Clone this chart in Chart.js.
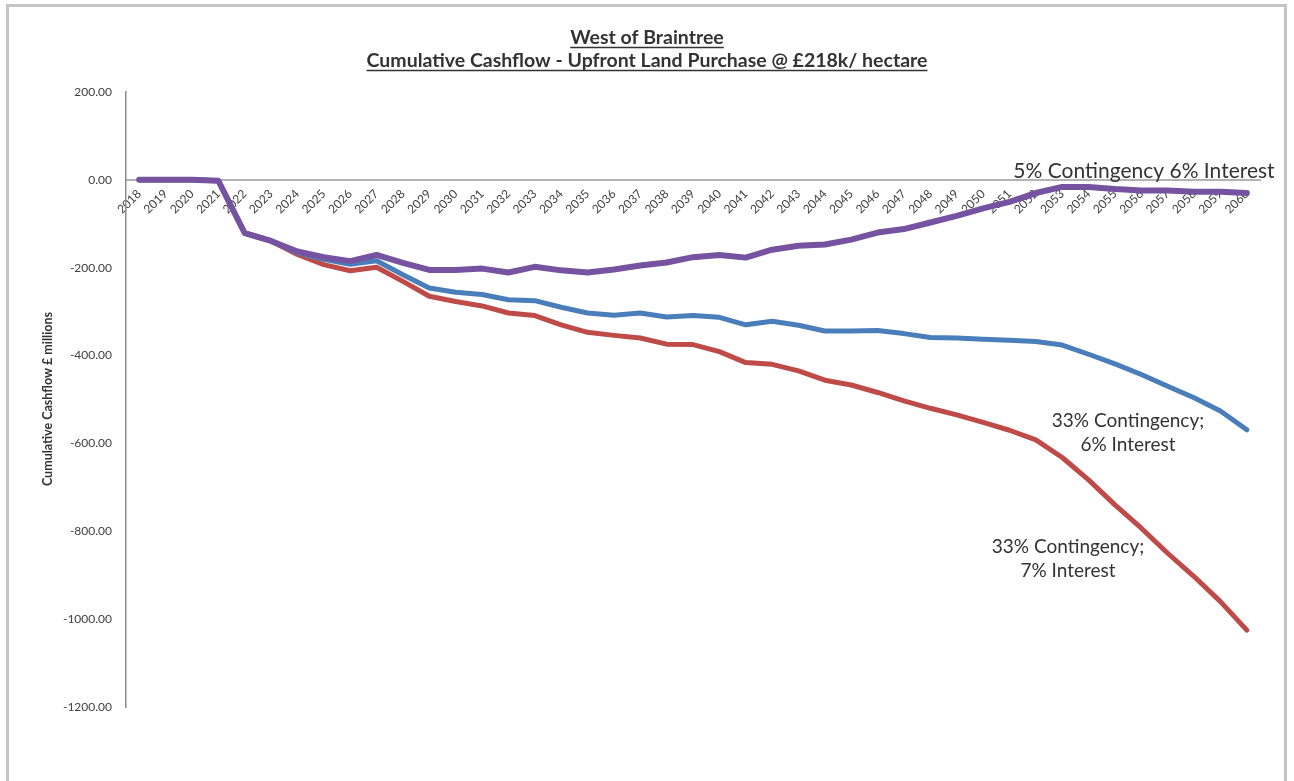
<!DOCTYPE html>
<html>
<head>
<meta charset="utf-8">
<title>West of Braintree - Cumulative Cashflow</title>
<script src="https://cdn.jsdelivr.net/npm/chart.js@4.4.0/dist/chart.umd.min.js"></script>
<style>
  html, body { margin: 0; padding: 0; background: #fff; }
  body { width: 1294px; height: 781px; overflow: hidden; position: relative; }
  .frame {
    position: absolute; left: 6px; top: 4px; width: 1281px; height: 820px;
    border: 3px solid #c4c4c4; box-sizing: border-box;
  }
  #wrap { position: absolute; left: 0; top: 0; width: 1294px; height: 781px; }
</style>
</head>
<body>
<div class="frame"></div>
<div id="wrap"><canvas id="cashflowChart"></canvas></div>
<script>
// years on the category axis
const years = [
  "2018", "2019", "2020", "2021", "2022", "2023", "2024", "2025", "2026", "2027",
  "2028", "2029", "2030", "2031", "2032", "2033", "2034", "2035", "2036", "2037",
  "2038", "2039", "2040", "2041", "2042", "2043", "2044", "2045", "2046", "2047",
  "2048", "2049", "2050", "2051", "2052", "2053", "2054", "2055", "2056", "2057",
  "2058", "2059", "2060"
];

// cumulative cashflow, £ millions
const cont5int6 = [
  0, 0, 0, -2, -121, -139, -163, -176, -185, -171,
  -189, -205, -205, -202, -211, -198, -206, -211, -204, -195,
  -188, -176, -171, -177, -159, -150, -147, -136, -120, -112,
  -97, -82, -65, -50, -30, -16, -16, -21, -24, -24,
  -27, -27, -30
];
const cont33int6 = [
  0, 0, 0, -2, -121, -139, -166, -181, -192, -184,
  -216, -246, -256, -261, -273, -275, -290, -303, -308, -303,
  -312, -309, -313, -330, -322, -331, -344, -344, -343, -350,
  -359, -360, -363, -365, -368, -376, -397, -419, -443, -470,
  -496, -526, -569
];
const cont33int7 = [
  0, 0, 0, -2, -121, -139, -170, -193, -207, -199,
  -231, -265, -277, -287, -303, -309, -330, -347, -354, -360,
  -374, -375, -391, -416, -420, -435, -456, -467, -484, -503,
  -520, -535, -552, -570, -592, -632, -683, -740, -793, -850,
  -903, -960, -1025
];

const titleLines = [
  "West of Braintree",
  "Cumulative Cashflow - Upfront Land Purchase @ £218k/ hectare"
];
const yAxisTitle = "Cumulative Cashflow £ millions";

// series captions placed beside the lines
const captions = [
  { lines: ["5% Contingency 6% Interest"], x: 1144, y: 178, size: 21 },
  { lines: ["33% Contingency;", "6% Interest"], x: 1128, y: 427, size: 19 },
  { lines: ["33% Contingency;", "7% Interest"], x: 1068, y: 553, size: 19 }
];

const textColor = "#333333";

// chart title (underlined), axis title and line captions
const textPlugin = {
  id: "chartText",
  afterDraw(chart) {
    const ctx = chart.ctx;
    ctx.save();
    ctx.fillStyle = textColor;
    ctx.strokeStyle = textColor;
    ctx.textBaseline = "alphabetic";
    ctx.textAlign = "center";

    ctx.font = "bold 19.5px Lato";
    const titleY = [44, 67];
    titleLines.forEach((line, i) => {
      const w = ctx.measureText(line).width;
      ctx.fillText(line, 647, titleY[i]);
      ctx.lineWidth = 1.4;
      ctx.beginPath();
      ctx.moveTo(647 - w / 2, titleY[i] + 3.5);
      ctx.lineTo(647 + w / 2, titleY[i] + 3.5);
      ctx.stroke();
    });

    ctx.font = "bold 12.5px Lato";
    ctx.translate(52, 399);
    ctx.rotate(-Math.PI / 2);
    ctx.fillText(yAxisTitle, 0, 0);
    ctx.setTransform(1, 0, 0, 1, 0, 0);

    captions.forEach((c) => {
      ctx.font = c.size + "px Lato";
      c.lines.forEach((line, i) => {
        ctx.fillText(line, c.x, c.y + i * 24);
      });
    });
    ctx.restore();
  }
};

const lineStyle = {
  pointRadius: 0,
  fill: false,
  tension: 0,
  borderCapStyle: "round",
  borderJoinStyle: "round"
};

new Chart(document.getElementById("cashflowChart"), {
  type: "line",
  data: {
    labels: years,
    datasets: [
      Object.assign({ label: "5% Contingency 6% Interest", data: cont5int6, borderColor: "#7653a1", borderWidth: 6 }, lineStyle),
      Object.assign({ label: "33% Contingency; 6% Interest", data: cont33int6, borderColor: "#4a7ebb", borderWidth: 5 }, lineStyle),
      Object.assign({ label: "33% Contingency; 7% Interest", data: cont33int7, borderColor: "#be4b48", borderWidth: 5 }, lineStyle)
    ]
  },
  options: {
    responsive: true,
    maintainAspectRatio: false,
    animation: false,
    layout: { padding: { left: 0, top: 92, right: 34, bottom: 74 } },
    plugins: {
      legend: { display: false },
      title: { display: false },
      tooltip: { enabled: false }
    },
    scales: {
      x: {
        type: "category",
        position: { y: 0 },
        offset: true,
        afterFit: (scale) => { scale.height = 0; },
        grid: { display: false, drawTicks: false },
        border: { display: true, color: "#b3b3b3", width: 2 },
        ticks: {
          autoSkip: false,
          maxRotation: 45,
          minRotation: 45,
          padding: 7,
          color: "#404040",
          font: { family: "Lato", size: 12 }
        }
      },
      y: {
        min: -1200,
        max: 200,
        afterFit: (scale) => { scale.width = 126; },
        grid: { display: false, drawTicks: false },
        border: { display: true, color: "#8c8c8c", width: 1.5 },
        ticks: {
          stepSize: 200,
          padding: 14,
          color: "#404040",
          font: { family: "Lato", size: 12 },
          callback: (v) => v.toFixed(2)
        }
      }
    }
  },
  plugins: [textPlugin]
});
</script>
</body>
</html>
